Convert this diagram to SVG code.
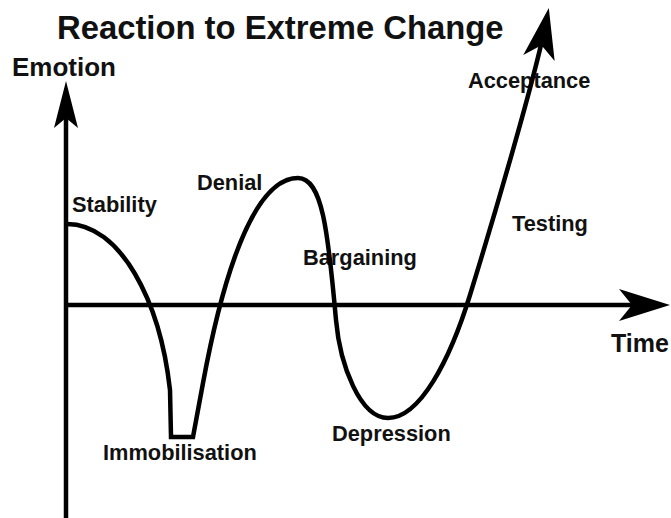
<svg xmlns="http://www.w3.org/2000/svg" width="671" height="518" viewBox="0 0 671 518">
  <style>
    .lbl { font-family: "Liberation Sans", Arial, Helvetica, sans-serif; font-weight: bold; fill: #111; }
    .t21 { font-size: 21.8px; }
    .ln { fill: none; stroke: #000; stroke-width: 4.5; stroke-linejoin: miter; }
  </style>
  <defs>
    <marker id="head" markerUnits="userSpaceOnUse" viewBox="-52 -17 54 34" markerWidth="54" markerHeight="34" refX="-14" refY="0" orient="auto" overflow="visible">
      <path d="M0,0 L-51,-16 L-38,0 L-51,16 Z" fill="#000"/>
    </marker>
    <marker id="headNarrow" markerUnits="userSpaceOnUse" viewBox="-50 -13 52 26" markerWidth="52" markerHeight="26" refX="-14" refY="0" orient="auto" overflow="visible">
      <path d="M0,0 L-47,-12 L-37,0 L-47,12 Z" fill="#000"/>
    </marker>
  </defs>
  <rect width="671" height="518" fill="#fff"/>

  <g id="title">
    <text class="lbl" x="57" y="39" font-size="32.8">Reaction to Extreme Change</text>
  </g>

  <g id="labels">
    <text id="emotion" class="lbl" x="12" y="76" font-size="26">Emotion</text>
    <text id="time" class="lbl" x="611" y="352" font-size="25">Time</text>
    <text id="stability" class="lbl t21" x="72" y="212">Stability</text>
    <text id="denial" class="lbl t21" x="197" y="190">Denial</text>
    <text id="bargaining" class="lbl t21" x="303" y="265">Bargaining</text>
    <text id="testing" class="lbl t21" x="512" y="231">Testing</text>
    <text id="immobilisation" class="lbl t21" x="103" y="460">Immobilisation</text>
    <text id="depression" class="lbl t21" x="332" y="441">Depression</text>
    <text id="acceptance" class="lbl t21" x="468" y="88">Acceptance</text>
  </g>

  <g id="axes">
    <line class="ln" x1="66" y1="518" x2="66" y2="95" marker-end="url(#headNarrow)"/>
    <line class="ln" x1="64" y1="305" x2="656" y2="305" marker-end="url(#head)"/>
  </g>

  <g id="curve">
    <path class="ln" d="M67,224 C120,224 160,300 170,390 L171,437 L193,437 L203,383 C215,318 245,178 298,178 C322,178 328,230 336,320 C340,365 360,418 388,418 C420,418 450,360 470,295 C490,230 534.5,80.6 546.1,21.7" marker-end="url(#head)"/>
  </g>
</svg>
